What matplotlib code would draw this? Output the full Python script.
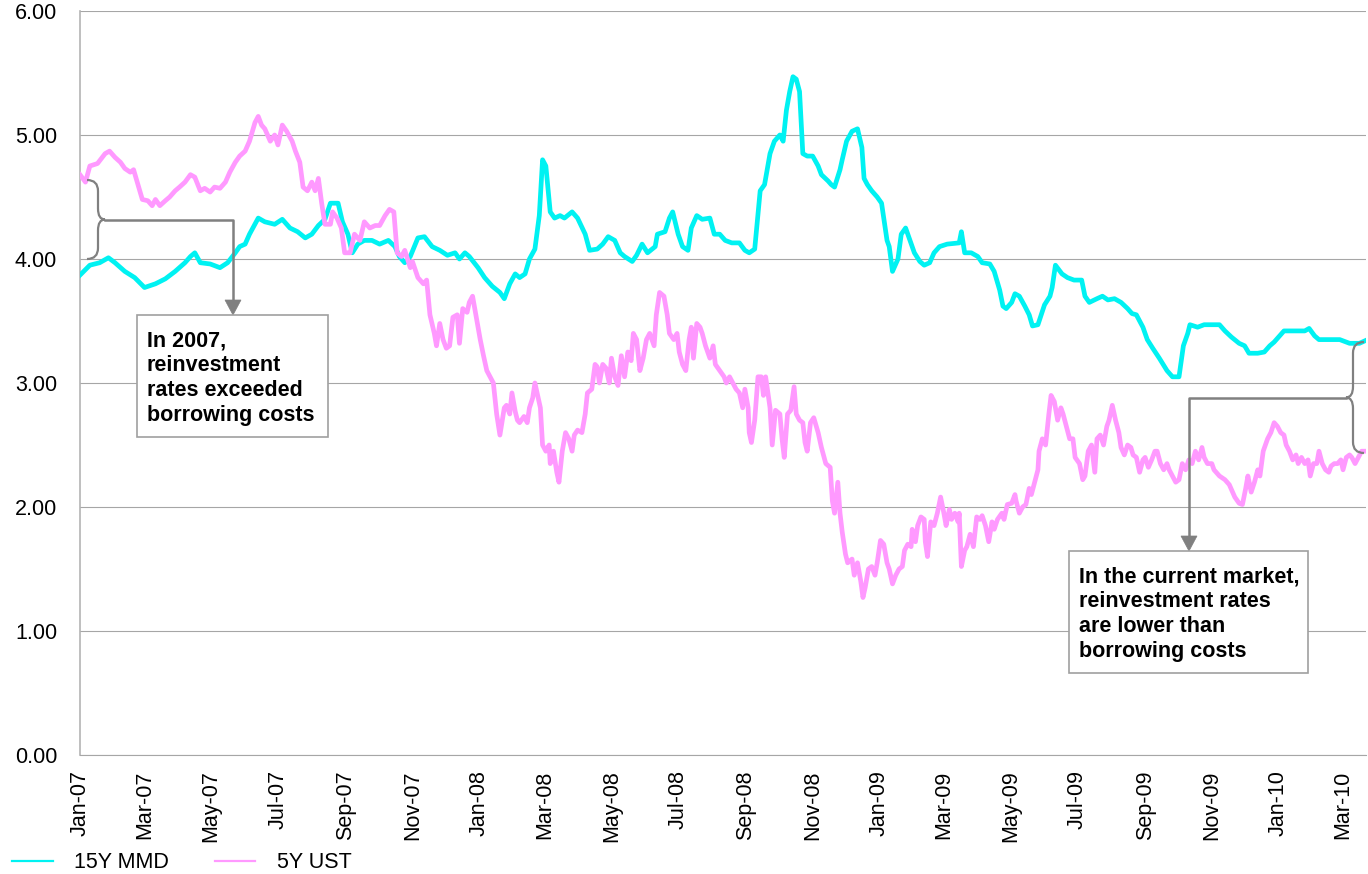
import matplotlib
matplotlib.use('Agg')
import matplotlib.pyplot as plt
import matplotlib.dates as mdates
import matplotlib.transforms as mtransforms
from matplotlib.path import Path
from matplotlib.patches import PathPatch, Rectangle, Polygon
from matplotlib.lines import Line2D
import numpy as np

plt.rcParams['font.family'] = ['Liberation Sans', 'DejaVu Sans']

# series, days counted from 2007-01-01
start = np.datetime64('2007-01-01')

mmd_days = [
    0, 9, 18, 26, 32, 41, 50, 59, 69, 78,
    87, 96, 101, 105, 110, 119, 128, 135, 142, 146,
    151, 155, 163, 169, 178, 185, 192, 199, 206, 212,
    218, 224, 229, 236, 240, 245, 249, 254, 260, 267,
    274, 282, 288, 292, 297, 302, 309, 315, 322, 329,
    336, 343, 347, 352, 356, 364, 370, 377, 384, 388,
    393, 398, 402, 407, 411, 416, 420, 423, 426, 430,
    434, 439, 443, 450, 455, 462, 466, 473, 478, 483,
    489, 494, 498, 505, 509, 514, 519, 526, 528, 535,
    539, 542, 547, 551, 556, 559, 564, 569, 576, 580,
    585, 590, 596, 603, 608, 612, 617, 622, 626, 631,
    635, 640, 643, 646, 649, 652, 655, 658, 661, 665,
    670, 675, 678, 684, 687, 690, 695, 697, 701, 706,
    711, 715, 717, 720, 724, 729, 733, 738, 740, 743,
    748, 751, 755, 759, 763, 768, 772, 777, 781, 786,
    793, 804, 806, 809, 815, 821, 825, 832, 836, 841,
    844, 847, 852, 855, 859, 864, 868, 871, 876, 882,
    887, 889, 892, 898, 903, 909, 916, 919, 923, 930,
    935, 940, 946, 952, 958, 962, 966, 972, 976, 981,
    987, 994, 999, 1005, 1009, 1013, 1015, 1022, 1028, 1035,
    1042, 1047, 1053, 1060, 1065, 1069, 1077, 1083, 1088, 1092,
    1097, 1101, 1108, 1113, 1120, 1124, 1129, 1133, 1143, 1152,
    1161, 1170, 1175]
mmd_15y = [
    3.87, 3.95, 3.97, 4.01, 3.97, 3.90, 3.85, 3.77, 3.80, 3.84,
    3.90, 3.97, 4.02, 4.05, 3.97, 3.96, 3.93, 3.97, 4.05, 4.10,
    4.12, 4.20, 4.33, 4.30, 4.28, 4.32, 4.25, 4.22, 4.17, 4.20,
    4.27, 4.32, 4.45, 4.45, 4.30, 4.20, 4.05, 4.12, 4.15, 4.15,
    4.12, 4.15, 4.10, 4.02, 3.97, 4.02, 4.17, 4.18, 4.10, 4.07,
    4.03, 4.05, 4.00, 4.05, 4.02, 3.93, 3.85, 3.78, 3.73, 3.68,
    3.80, 3.88, 3.85, 3.88, 4.00, 4.08, 4.35, 4.80, 4.75, 4.38,
    4.33, 4.35, 4.33, 4.38, 4.33, 4.20, 4.07, 4.08, 4.12, 4.18,
    4.15, 4.05, 4.02, 3.98, 4.03, 4.12, 4.05, 4.10, 4.20, 4.22,
    4.33, 4.38, 4.20, 4.10, 4.07, 4.25, 4.35, 4.32, 4.33, 4.20,
    4.20, 4.15, 4.13, 4.13, 4.07, 4.05, 4.08, 4.55, 4.60, 4.85,
    4.95, 5.00, 4.95, 5.20, 5.35, 5.47, 5.45, 5.35, 4.85, 4.83,
    4.83, 4.75, 4.68, 4.63, 4.60, 4.58, 4.72, 4.80, 4.95, 5.03,
    5.05, 4.90, 4.65, 4.60, 4.55, 4.50, 4.45, 4.15, 4.10, 3.90,
    4.00, 4.20, 4.25, 4.15, 4.05, 3.98, 3.95, 3.97, 4.05, 4.10,
    4.12, 4.13, 4.22, 4.05, 4.05, 4.02, 3.97, 3.96, 3.90, 3.75,
    3.62, 3.60, 3.65, 3.72, 3.70, 3.62, 3.55, 3.46, 3.47, 3.63,
    3.70, 3.77, 3.95, 3.88, 3.85, 3.83, 3.83, 3.70, 3.65, 3.68,
    3.70, 3.67, 3.68, 3.65, 3.60, 3.56, 3.55, 3.45, 3.35, 3.28,
    3.20, 3.10, 3.05, 3.05, 3.30, 3.40, 3.47, 3.45, 3.47, 3.47,
    3.47, 3.42, 3.37, 3.32, 3.30, 3.24, 3.24, 3.25, 3.30, 3.33,
    3.38, 3.42, 3.42, 3.42, 3.42, 3.44, 3.38, 3.35, 3.35, 3.35,
    3.32, 3.32, 3.34]

ust_days = [
    0, 5, 9, 16, 23, 27, 32, 37, 41, 46,
    49, 53, 57, 62, 66, 69, 73, 78, 82, 87,
    91, 96, 101, 105, 110, 114, 119, 123, 128, 133,
    137, 142, 146, 151, 155, 160, 163, 166, 169, 174,
    178, 181, 185, 189, 194, 197, 201, 204, 208, 212,
    215, 218, 221, 224, 229, 231, 235, 239, 242, 247,
    251, 256, 260, 265, 270, 274, 279, 283, 287, 290,
    294, 297, 302, 304, 309, 314, 317, 320, 324, 326,
    329, 332, 335, 338, 341, 345, 347, 350, 354, 356,
    359, 362, 364, 366, 369, 372, 375, 378, 381, 384,
    388, 390, 393, 395, 398, 400, 402, 406, 409, 411,
    414, 416, 419, 421, 423, 426, 429, 430, 433, 436,
    438, 441, 444, 447, 450, 452, 455, 459, 462, 464,
    468, 471, 473, 475, 478, 481, 484, 486, 489, 492,
    495, 498, 501, 504, 506, 509, 512, 515, 518, 521,
    525, 527, 530, 534, 537, 539, 543, 546, 548, 551,
    554, 557, 559, 561, 564, 567, 569, 572, 576, 579,
    581, 585, 589, 591, 594, 597, 600, 603, 606, 608,
    611, 612, 614, 617, 620, 623, 625, 627, 631, 633,
    636, 640, 642, 644, 647, 650, 653, 655, 658, 661,
    663, 665, 668, 671, 675, 678, 682, 686, 688, 690,
    693, 695, 697, 700, 702, 706, 708, 711, 714, 716,
    718, 721, 724, 727, 729, 732, 735, 738, 740, 743,
    746, 749, 752, 754, 757, 760, 761, 764, 766, 769,
    772, 773, 775, 778, 781, 784, 787, 790, 792, 795,
    797, 800, 803, 804, 806, 809, 811, 814, 817, 820,
    823, 825, 828, 831, 834, 836, 839, 843, 845, 848,
    852, 855, 856, 859, 862, 865, 868, 870, 873, 876,
    877, 880, 883, 886, 888, 891, 894, 897, 899, 902,
    905, 908, 910, 914, 917, 919, 922, 925, 928, 930,
    933, 936, 939, 941, 944, 947, 950, 952, 955, 958,
    961, 963, 966, 969, 972, 974, 977, 980, 983, 985,
    988, 991, 994, 996, 999, 1002, 1005, 1008, 1011, 1014,
    1017, 1020, 1023, 1026, 1028, 1031, 1035, 1037, 1042, 1047,
    1051, 1056, 1060, 1063, 1066, 1068, 1071, 1074, 1077, 1079,
    1082, 1086, 1089, 1092, 1095, 1098, 1101, 1103, 1106, 1109,
    1112, 1114, 1117, 1120, 1123, 1125, 1128, 1131, 1133, 1136,
    1139, 1142, 1144, 1147, 1150, 1153, 1155, 1158, 1161, 1163,
    1166, 1169, 1172, 1175]
ust_5y = [
    4.68, 4.62, 4.75, 4.77, 4.85, 4.87, 4.82, 4.78, 4.73, 4.70,
    4.72, 4.60, 4.48, 4.47, 4.43, 4.48, 4.43, 4.47, 4.50, 4.55,
    4.58, 4.62, 4.68, 4.66, 4.55, 4.57, 4.54, 4.58, 4.57, 4.62,
    4.70, 4.78, 4.83, 4.87, 4.95, 5.10, 5.15, 5.08, 5.05, 4.95,
    5.00, 4.92, 5.08, 5.03, 4.95, 4.87, 4.78, 4.58, 4.55, 4.62,
    4.55, 4.65, 4.45, 4.28, 4.28, 4.38, 4.33, 4.25, 4.05, 4.05,
    4.20, 4.15, 4.30, 4.25, 4.27, 4.27, 4.35, 4.40, 4.38, 4.05,
    4.02, 4.07, 3.93, 3.98, 3.85, 3.80, 3.83, 3.55, 3.40, 3.30,
    3.48, 3.35, 3.28, 3.30, 3.53, 3.55, 3.32, 3.60, 3.57, 3.65,
    3.70, 3.55, 3.45, 3.35, 3.22, 3.10, 3.05, 3.00, 2.75, 2.58,
    2.80, 2.82, 2.75, 2.92, 2.77, 2.70, 2.68, 2.73, 2.68, 2.80,
    2.88, 3.00, 2.88, 2.80, 2.50, 2.45, 2.50, 2.35, 2.45, 2.28,
    2.20, 2.45, 2.60, 2.55, 2.45, 2.58, 2.62, 2.60, 2.75, 2.92,
    2.95, 3.15, 3.13, 3.00, 3.15, 3.12, 3.00, 3.20, 3.05, 2.98,
    3.22, 3.05, 3.25, 3.18, 3.40, 3.35, 3.10, 3.20, 3.35, 3.40,
    3.30, 3.55, 3.73, 3.70, 3.55, 3.40, 3.35, 3.40, 3.25, 3.15,
    3.10, 3.35, 3.45, 3.20, 3.48, 3.45, 3.40, 3.30, 3.20, 3.30,
    3.15, 3.10, 3.05, 3.00, 3.05, 3.00, 2.95, 2.92, 2.80, 2.95,
    2.80, 2.60, 2.52, 2.70, 3.05, 3.05, 2.90, 3.05, 2.80, 2.50,
    2.78, 2.75, 2.55, 2.40, 2.75, 2.78, 2.97, 2.75, 2.70, 2.68,
    2.52, 2.45, 2.68, 2.72, 2.60, 2.48, 2.35, 2.32, 2.05, 1.95,
    2.20, 1.95, 1.80, 1.62, 1.55, 1.58, 1.45, 1.55, 1.40, 1.27,
    1.35, 1.50, 1.52, 1.45, 1.55, 1.73, 1.70, 1.55, 1.50, 1.38,
    1.45, 1.50, 1.52, 1.65, 1.70, 1.68, 1.82, 1.72, 1.85, 1.92,
    1.90, 1.72, 1.60, 1.88, 1.85, 1.95, 2.08, 1.95, 1.85, 1.98,
    1.90, 1.95, 1.88, 1.95, 1.52, 1.65, 1.68, 1.78, 1.68, 1.92,
    1.90, 1.93, 1.85, 1.72, 1.88, 1.82, 1.90, 1.95, 1.90, 2.02,
    2.03, 2.10, 2.05, 1.95, 2.00, 2.02, 2.15, 2.10, 2.20, 2.30,
    2.45, 2.55, 2.50, 2.75, 2.90, 2.85, 2.70, 2.80, 2.75, 2.65,
    2.55, 2.55, 2.40, 2.35, 2.22, 2.25, 2.45, 2.50, 2.28, 2.55,
    2.58, 2.50, 2.65, 2.70, 2.82, 2.70, 2.60, 2.48, 2.42, 2.50,
    2.48, 2.42, 2.40, 2.28, 2.38, 2.40, 2.32, 2.38, 2.45, 2.45,
    2.35, 2.30, 2.35, 2.30, 2.25, 2.20, 2.22, 2.35, 2.30, 2.38,
    2.35, 2.45, 2.38, 2.48, 2.40, 2.35, 2.35, 2.30, 2.25, 2.22,
    2.18, 2.08, 2.03, 2.02, 2.15, 2.25, 2.12, 2.20, 2.30, 2.25,
    2.45, 2.55, 2.60, 2.68, 2.65, 2.60, 2.58, 2.50, 2.45, 2.38,
    2.42, 2.35, 2.40, 2.35, 2.38, 2.25, 2.35, 2.35, 2.45, 2.35,
    2.30, 2.28, 2.33, 2.35, 2.35, 2.38, 2.30, 2.40, 2.42, 2.40,
    2.35, 2.40, 2.45, 2.45]

series_labels = ['15Y MMD', '5Y UST']
note_2007 = 'In 2007,\nreinvestment\nrates exceeded\nborrowing costs'
note_now = 'In the current market,\nreinvestment rates\nare lower than\nborrowing costs'

CYAN = '#00F2F2'
PINK = '#FF99FF'
GREY = '#808080'
FS = 15.5

W, H = 1368, 874
fig = plt.figure(figsize=(W / 100, H / 100), dpi=100)
ax = fig.add_axes([80 / W, 1 - 755 / H, 1286 / W, 744 / H])

mmd_dates = start + np.array(mmd_days).astype('timedelta64[D]')
ust_dates = start + np.array(ust_days).astype('timedelta64[D]')
ax.plot(mmd_dates, mmd_15y, color=CYAN, lw=3.4, solid_joinstyle='round', zorder=3)
ax.plot(ust_dates, ust_5y, color=PINK, lw=3.4, solid_joinstyle='round', zorder=4)

ax.set_xlim(start, start + np.timedelta64(1176, 'D'))
ax.set_ylim(0, 6)
ax.set_yticks(range(0, 7))
ax.yaxis.set_major_formatter(plt.FuncFormatter(lambda v, p: f'{v:.2f}'))
ax.xaxis.set_major_locator(mdates.MonthLocator(bymonth=[1, 3, 5, 7, 9, 11]))
ax.xaxis.set_major_formatter(mdates.DateFormatter('%b-%y'))
ax.tick_params(axis='x', length=0, pad=11, labelsize=FS, labelrotation=90)
ax.tick_params(axis='y', length=0, pad=16.5, labelsize=FS)
ax.grid(axis='y', color='#a6a6a6', lw=0.8)
ax.set_axisbelow(True)
for s in ['top', 'right']:
    ax.spines[s].set_visible(False)
ax.spines['left'].set_color('#b4b4b4')
ax.spines['bottom'].set_color('#a6a6a6')
ax.spines['left'].set_linewidth(1.2)

# annotations laid out in image pixels (origin top-left)
px = mtransforms.Affine2D().scale(1 / W, -1 / H).translate(0, 1) + fig.transFigure


def brace(x_end, x_mid, x_tip, y_top, y_bot):
    y_c = (y_top + y_bot) / 2
    r = 11
    verts = [(x_end, y_top), (x_mid, y_top), (x_mid, y_top + r),
             (x_mid, y_c - r), (x_mid, y_c), (x_tip, y_c),
             (x_mid, y_c), (x_mid, y_c + r),
             (x_mid, y_bot - r), (x_mid, y_bot), (x_end, y_bot)]
    codes = [Path.MOVETO, Path.CURVE3, Path.CURVE3, Path.LINETO,
             Path.CURVE3, Path.CURVE3, Path.CURVE3, Path.CURVE3,
             Path.LINETO, Path.CURVE3, Path.CURVE3]
    fig.add_artist(PathPatch(Path(verts, codes), fill=False, edgecolor=GREY,
                             lw=1.6, transform=px, zorder=5))


def elbow_arrow(x0, y0, x1, y1):
    fig.add_artist(Line2D([x0, x1, x1], [y0, y0, y1 - 14], color=GREY, lw=1.8,
                          transform=px, zorder=5))
    fig.add_artist(Polygon([(x1 - 8, y1 - 15), (x1 + 8, y1 - 15), (x1, y1)],
                           closed=True, facecolor=GREY, edgecolor=GREY, lw=0.5,
                           transform=px, zorder=5))


def note_box(x, y, w, h, text):
    fig.add_artist(Rectangle((x, y), w, h, facecolor='white', edgecolor='#a0a0a0',
                             lw=1.2, transform=px, zorder=5))
    fig.text(x + 10, y + 15, text, transform=px, ha='left', va='top',
             fontsize=FS, fontweight='bold', linespacing=1.24, zorder=6)


brace(87, 98, 105, 180, 259)
elbow_arrow(105, 220, 233, 315)
note_box(137, 315, 191, 122, note_2007)

brace(1364, 1353, 1346, 342, 453)
elbow_arrow(1346, 398, 1189, 551)
note_box(1069, 551, 239, 122, note_now)

handles = [Line2D([], [], color=CYAN, lw=1.6), Line2D([], [], color=PINK, lw=1.6)]
fig.legend(handles, series_labels, loc='center left',
           bbox_to_anchor=(12 / W, 1 - 863 / H), ncol=2, frameon=False,
           fontsize=FS, handlelength=1.9, handletextpad=1.0, columnspacing=2.1,
           borderpad=0, borderaxespad=0)

fig.savefig('out.png', dpi=100, facecolor='white')
plt.close(fig)
